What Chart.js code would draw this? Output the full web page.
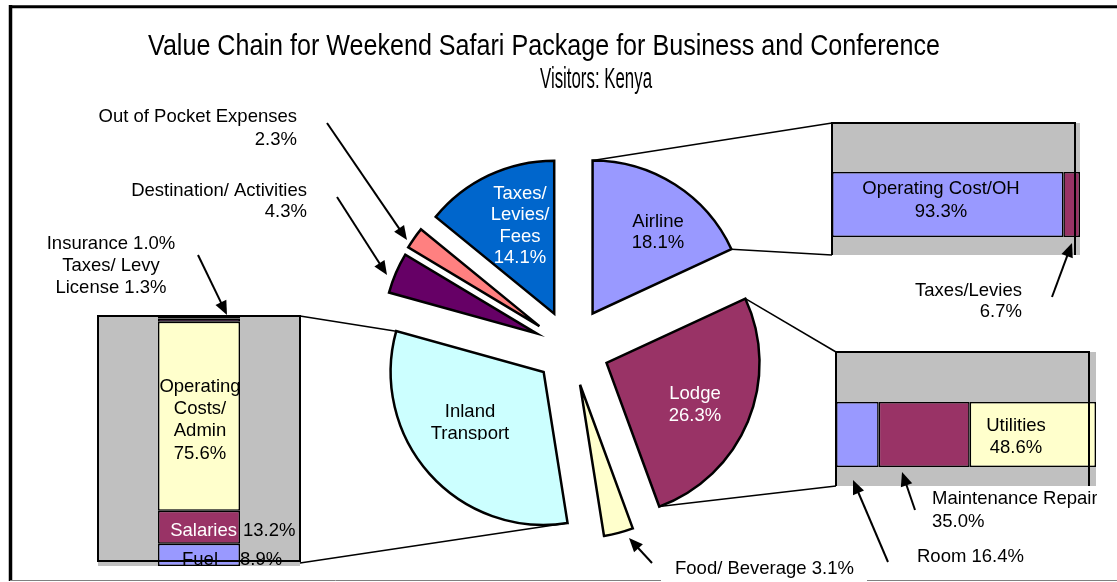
<!DOCTYPE html>
<html lang="en">
<head>
<meta charset="UTF-8" />
<title>Value Chain for Weekend Safari Package</title>
<script src="https://cdn.jsdelivr.net/npm/chart.js"></script>
<style>
  html, body { margin: 0; padding: 0; background: #fff; }
  body { width: 1117px; height: 582px; position: relative; overflow: hidden; }
  .box { position: absolute; overflow: hidden; z-index: 1; }
  #pieChart { position: absolute; left: 0; top: 0; z-index: 2; }
</style>
</head>
<body>
<div class="box" style="left:88px;top:306px;width:222px;height:260px"><canvas id="inlandChart" width="222" height="270"></canvas></div>
<div class="box" style="left:822px;top:113px;width:268px;height:142px"><canvas id="airlineChart" width="268" height="183"></canvas></div>
<div class="box" style="left:826px;top:342px;width:280px;height:144px"><canvas id="lodgeChart" width="280" height="185"></canvas></div>
<canvas id="pieChart" width="1117" height="582"></canvas>

<script>
const FONT = '"Liberation Sans", Arial, sans-serif';

// main pie, clockwise from 12 o'clock
const pieLabels = ['Airline', 'Lodge', 'Food/ Beverage', 'Inland Transport',
                   'Destination/ Activities', 'Out of Pocket Expenses', 'Taxes/ Levies/ Fees'];
const pieValues = [18.1, 26.3, 3.1, 31.8, 4.3, 2.3, 14.1];
const pieColors = ['#9999ff', '#993366', '#ffffcc', '#ccffff', '#660066', '#ff8080', '#0066cc'];
const explode = [41, 39, 38, 36, 37, 38, 38];

// breakdown bars
const inlandLabels = ['Fuel', 'Salaries', 'Operating Costs/ Admin', 'Taxes/ Levy License', 'Insurance'];
const inlandValues = [8.9, 13.2, 75.6, 1.3, 1.0];
const inlandColors = ['#9999ff', '#993366', '#ffffcc', '#660066', '#660066'];

const airlineLabels = ['Operating Cost/OH', 'Taxes/Levies'];
const airlineValues = [93.3, 6.7];
const airlineColors = ['#9999ff', '#993366'];

const lodgeLabels = ['Room', 'Maintenance Repair', 'Utilities'];
const lodgeValues = [16.4, 35.0, 48.6];
const lodgeColors = ['#9999ff', '#993366', '#ffffcc'];

const pct = v => v.toFixed(1) + '%';

// gray plot area + black outline
const plotFrame = {
  id: 'plotFrame',
  beforeDatasetsDraw(chart) {
    const a = chart.chartArea, ctx = chart.ctx;
    ctx.save();
    ctx.fillStyle = '#c0c0c0';
    ctx.fillRect(a.left, a.top, a.right - a.left, a.bottom - a.top);
    ctx.restore();
  },
  afterDatasetsDraw(chart, args, opts) {
    const a = chart.chartArea, ctx = chart.ctx;
    ctx.save();
    ctx.strokeStyle = '#000';
    ctx.lineWidth = 2;
    ctx.strokeRect(a.left, a.top, a.right - a.left - (opts.rightInset || 0),
                   a.bottom - a.top - (opts.bottomInset || 0));
    ctx.restore();
  }
};

function stackedBar(id, labels, values, colors, horizontal, thickness, frameOpts) {
  return new Chart(document.getElementById(id), {
    type: 'bar',
    data: {
      labels: [''],
      datasets: labels.map((l, i) => ({
        label: l,
        data: [values[i]],
        backgroundColor: colors[i],
        borderColor: '#000',
        borderWidth: 1.5,
        borderSkipped: false,
        categoryPercentage: 1,
        barPercentage: thickness
      }))
    },
    options: {
      indexAxis: horizontal ? 'y' : 'x',
      responsive: false,
      animation: false,
      events: [],
      layout: { padding: 10 },
      plugins: { legend: { display: false }, tooltip: { enabled: false }, plotFrame: frameOpts },
      scales: {
        x: horizontal ? { stacked: true, display: false, min: 0, max: 100 } : { stacked: true, display: false },
        y: horizontal ? { stacked: true, display: false } : { stacked: true, display: false, min: 0, max: 100 }
      }
    },
    plugins: [plotFrame]
  });
}

const inlandChart = stackedBar('inlandChart', inlandLabels, inlandValues, inlandColors, false, 0.406, { bottomInset: 5 });
const airlineChart = stackedBar('airlineChart', airlineLabels, airlineValues, airlineColors, true, 0.399, { rightInset: 5 });
const lodgeChart = stackedBar('lodgeChart', lodgeLabels, lodgeValues, lodgeColors, true, 0.394, { rightInset: 7 });

// page offsets of the small charts (canvas positions)
const boxPos = { inland: [88, 306], airline: [822, 113], lodge: [826, 342] };
function area(chart, key) {
  const a = chart.chartArea, p = boxPos[key];
  return { left: a.left + p[0], right: a.right + p[0], top: a.top + p[1], bottom: a.bottom + p[1] };
}

// pull each slice out along its middle angle
const explodePlugin = {
  id: 'explode',
  afterDatasetUpdate(chart, args) {
    args.meta.data.forEach((arc, i) => {
      const mid = (arc.startAngle + arc.endAngle) / 2;
      arc.x += Math.cos(mid) * explode[i];
      arc.y += Math.sin(mid) * explode[i];
    });
  }
};

function txt(ctx, s, x, y, align, color, size) {
  ctx.font = (size || 18.5) + 'px ' + FONT;
  ctx.fillStyle = color || '#000';
  ctx.textAlign = align || 'center';
  ctx.textBaseline = 'middle';
  ctx.fillText(s, x, y);
}

function fitTxt(ctx, s, cx, y, width, size) {
  ctx.font = size + 'px ' + FONT;
  const w = ctx.measureText(s).width;
  ctx.save();
  ctx.translate(cx, y);
  ctx.scale(width / w, 1);
  ctx.textAlign = 'center';
  ctx.textBaseline = 'alphabetic';
  ctx.fillStyle = '#000';
  ctx.fillText(s, 0, 0);
  ctx.restore();
}

function arrow(ctx, x1, y1, x2, y2) {
  const ang = Math.atan2(y2 - y1, x2 - x1), c = Math.cos(ang), s = Math.sin(ang);
  const L = 14, W = 6;
  ctx.beginPath();
  ctx.moveTo(x1, y1);
  ctx.lineTo(x2 - c * L * 0.7, y2 - s * L * 0.7);
  ctx.lineWidth = 2;
  ctx.stroke();
  ctx.beginPath();
  ctx.moveTo(x2, y2);
  ctx.lineTo(x2 - L * c + W * s, y2 - L * s - W * c);
  ctx.lineTo(x2 - L * c - W * s, y2 - L * s + W * c);
  ctx.closePath();
  ctx.fill();
}

function line(ctx, x1, y1, x2, y2) {
  ctx.beginPath();
  ctx.moveTo(x1, y1);
  ctx.lineTo(x2, y2);
  ctx.stroke();
}

function withClip(ctx, x, y, w, h, fn) {
  ctx.save();
  ctx.beginPath();
  ctx.rect(x, y, w, h);
  ctx.clip();
  fn();
  ctx.restore();
}

const annotations = {
  id: 'annotations',
  afterDraw(chart) {
    const ctx = chart.ctx;
    const arcs = chart.getDatasetMeta(0).data;
    const edge = (arc, a) => [arc.x + Math.cos(a) * arc.outerRadius, arc.y + Math.sin(a) * arc.outerRadius];
    ctx.save();

    // outer frame
    ctx.strokeStyle = '#000';
    ctx.lineWidth = 3.5;
    line(ctx, 10.5, 5, 10.5, 581);
    ctx.lineWidth = 3;
    line(ctx, 9, 6.8, 1117, 6.8);
    ctx.strokeStyle = '#808080';
    ctx.lineWidth = 1;
    line(ctx, 10, 580.5, 661, 580.5);
    line(ctx, 867, 580.5, 1117, 580.5);

    // title (narrow face, squeezed to the original line widths)
    fitTxt(ctx, 'Value Chain for Weekend Safari Package for Business and Conference', 544, 55, 792, 30);
    fitTxt(ctx, 'Visitors: Kenya', 596, 88, 112, 30);

    // connectors from slices to breakdown boxes
    ctx.strokeStyle = '#000';
    ctx.lineWidth = 1.5;
    const L = area(inlandChart, 'inland'), A = area(airlineChart, 'airline'), G = area(lodgeChart, 'lodge');
    const air = arcs[0], lod = arcs[1], inl = arcs[3];
    let p = edge(air, air.startAngle); line(ctx, p[0], p[1], A.left, A.top);
    p = edge(air, air.endAngle); line(ctx, p[0], p[1], A.left, 255);
    p = edge(lod, lod.startAngle); line(ctx, p[0], p[1], G.left, G.top);
    p = edge(lod, lod.endAngle); line(ctx, p[0], p[1], G.left, 486);
    p = edge(inl, inl.endAngle); line(ctx, p[0], p[1], L.right, L.top);
    p = edge(inl, inl.startAngle); line(ctx, p[0], p[1], L.right, L.bottom - 3);

    // arrows
    ctx.strokeStyle = '#000';
    ctx.fillStyle = '#000';
    arrow(ctx, 327, 123, 407, 240);
    arrow(ctx, 337, 197, 387, 275);
    arrow(ctx, 198, 255, 227, 315);
    arrow(ctx, 1052, 297, 1072, 243);
    arrow(ctx, 915, 510, 902, 472);
    arrow(ctx, 888, 562, 853, 480);
    arrow(ctx, 652, 563, 629, 538);

    // callout labels
    txt(ctx, pieLabels[5], 297, 117, 'right');
    txt(ctx, pct(pieValues[5]), 297, 140, 'right');
    txt(ctx, pieLabels[4], 307, 191, 'right');
    txt(ctx, pct(pieValues[4]), 307, 212, 'right');
    txt(ctx, inlandLabels[4] + ' ' + pct(inlandValues[4]), 111, 244);
    txt(ctx, 'Taxes/ Levy', 111, 266);
    txt(ctx, 'License ' + pct(inlandValues[3]), 111, 288);
    txt(ctx, airlineLabels[1], 1022, 291, 'right');
    txt(ctx, pct(airlineValues[1]), 1022, 312, 'right');
    withClip(ctx, 0, 0, 1097, 582, () => txt(ctx, lodgeLabels[1], 932, 499, 'left'));
    txt(ctx, pct(lodgeValues[1]), 932, 522, 'left');
    txt(ctx, lodgeLabels[0] + ' ' + pct(lodgeValues[0]), 917, 557, 'left');
    withClip(ctx, 0, 0, 1117, 579, () => txt(ctx, pieLabels[2] + ' ' + pct(pieValues[2]), 675, 569, 'left'));

    // slice labels
    ['Taxes/', 'Levies/', 'Fees', pct(pieValues[6])].forEach((s, i) => txt(ctx, s, 520, 194 + i * 21.3, 'center', '#fff'));
    txt(ctx, pieLabels[0], 658, 222);
    txt(ctx, pct(pieValues[0]), 658, 243);
    txt(ctx, pieLabels[1], 695, 394, 'center', '#fff');
    txt(ctx, pct(pieValues[1]), 695, 416, 'center', '#fff');
    withClip(ctx, 0, 0, 1117, 440, () => {
      txt(ctx, 'Inland', 470, 412);
      txt(ctx, 'Transport', 470, 434);
    });

    // labels inside breakdown bars
    ['Operating', 'Costs/', 'Admin', pct(inlandValues[2])].forEach((s, i) => txt(ctx, s, 200, 387 + i * 22.2));
    txt(ctx, inlandLabels[1], 237, 531, 'right', '#fff');
    txt(ctx, pct(inlandValues[1]), 243, 531, 'left');
    withClip(ctx, 0, 0, 1117, 566, () => {
      txt(ctx, inlandLabels[0], 200, 560);
      txt(ctx, pct(inlandValues[0]), 240, 560, 'left');
    });
    txt(ctx, airlineLabels[0], 941, 189);
    txt(ctx, pct(airlineValues[0]), 941, 212);
    txt(ctx, lodgeLabels[2], 1016, 426);
    txt(ctx, pct(lodgeValues[2]), 1016, 448);

    ctx.restore();
  }
};

new Chart(document.getElementById('pieChart'), {
  type: 'pie',
  data: {
    labels: pieLabels,
    datasets: [{
      data: pieValues,
      backgroundColor: pieColors,
      borderColor: '#000',
      borderWidth: 2.5,
      borderJoinStyle: 'miter',
      radius: 153
    }]
  },
  options: {
    responsive: false,
    animation: false,
    events: [],
    layout: { padding: { left: 24, top: 114, right: 0, bottom: 0 } },
    plugins: { legend: { display: false }, tooltip: { enabled: false } }
  },
  plugins: [explodePlugin, annotations]
});
</script>
</body>
</html>
